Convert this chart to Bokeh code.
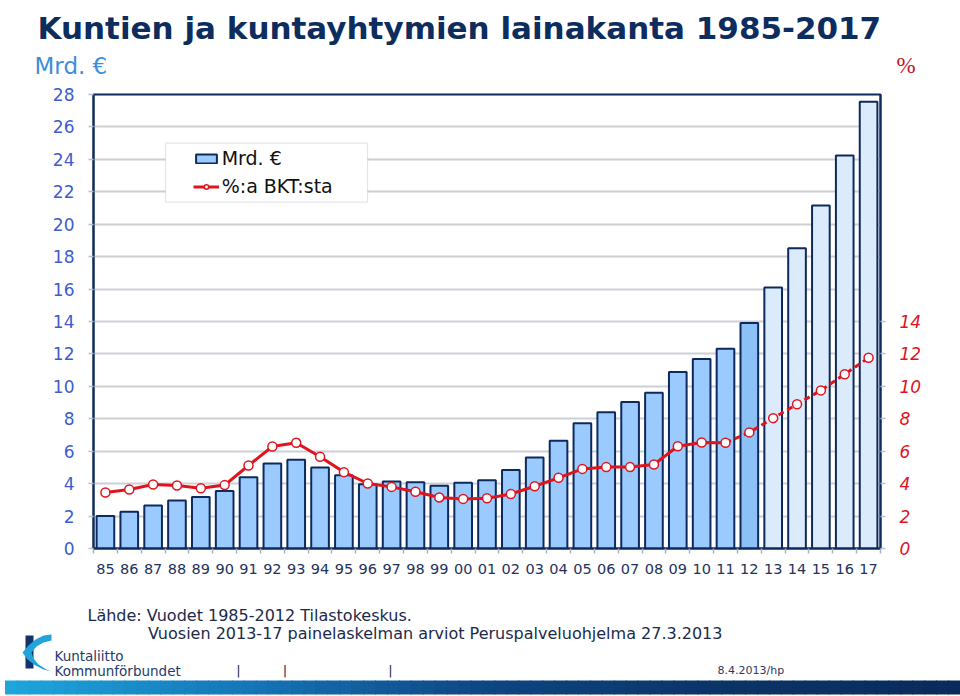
import numpy as np
from bokeh.plotting import figure
from bokeh.layouts import column
from bokeh.models import (Range1d, LinearAxis, FixedTicker, Label, BoxAnnotation,
                          PolyAnnotation, Legend, LegendItem, ColumnDataSource)
from bokeh.embed import file_html
from bokeh.resources import INLINE

# ---------------- data ----------------
years = ["85", "86", "87", "88", "89", "90", "91", "92", "93", "94", "95", "96",
         "97", "98", "99", "00", "01", "02", "03", "04", "05", "06", "07", "08",
         "09", "10", "11", "12", "13", "14", "15", "16", "17"]
loan_bn = [2.00, 2.26, 2.65, 2.96, 3.17, 3.54, 4.40, 5.24, 5.47, 5.00, 4.52, 3.97,
           4.13, 4.09, 3.87, 4.05, 4.21, 4.84, 5.61, 6.64, 7.73, 8.41, 9.03, 9.60,
           10.88, 11.68, 12.32, 13.90, 16.10, 18.51, 21.16, 24.24, 27.56]
pct_gdp = [3.45, 3.64, 3.95, 3.89, 3.72, 3.91, 5.12, 6.29, 6.52, 5.66, 4.71, 4.01,
           3.80, 3.50, 3.15, 3.06, 3.10, 3.36, 3.84, 4.36, 4.91, 5.02, 5.02, 5.18,
           6.31, 6.54, 6.52, 7.16, 8.04, 8.90, 9.75, 10.75, 11.76]
latest_actual = "12"      # last statistics year
dash_from = "11"          # the % line is dashed from this year on
left_ticks = list(range(0, 29, 2))
right_ticks = list(range(0, 15, 2))

title_text = "Kuntien ja kuntayhtymien lainakanta 1985-2017"
unit_left = "Mrd. €"
unit_right = "%"
legend_labels = ["Mrd. €", "%:a BKT:sta"]
source_lines = ["Lähde: Vuodet 1985-2012 Tilastokeskus.",
                "Vuosien 2013-17 painelaskelman arviot Peruspalveluohjelma 27.3.2013"]
logo_lines = ["Kuntaliitto", "Kommunförbundet"]
date_text = "8.4.2013/hp"

# ---------------- styles ----------------
NAVY = "#0E2A5C"
RED = "#E0141E"
BAR_HIST = "#9BCBFE"
BAR_LAST = "#8CC1F8"
BAR_FCST = "#DCEBFC"
FONT = "DejaVu Sans"
W = 960
HEAD_H, MAIN_H, FOOT_H = 80, 510, 106


def blank_panel(height, y_top):
    """A figure whose frame covers the whole canvas; data coords = page pixels."""
    f = figure(width=W, height=height, output_backend="svg", toolbar_location=None,
               x_range=Range1d(0, W), y_range=Range1d(y_top + height, y_top),
               x_axis_location=None, y_axis_location=None, min_border=0,
               frame_align=False)
    f.title.visible = False
    f.outline_line_color = None
    f.grid.visible = False
    f.background_fill_color = "white"
    f.border_fill_color = "white"
    return f


def add_text(fig, text, X, Y, size, color, font=FONT, style="normal", align="left"):
    fig.add_layout(Label(x=X, y=Y, text=text, text_font=font, text_font_size=size,
                         text_font_style=style, text_color=color, text_align=align,
                         text_baseline="alphabetic"))


# ---------------- header ----------------
head = blank_panel(HEAD_H, 0)
add_text(head, title_text, 37, 27.5, "31px", "#0C2D5E", style="bold")
add_text(head, unit_left, 34, 65, "23px", "#3C8DDE")
add_text(head, unit_right, 896, 65, "23px", "#C0182E", font="Liberation Serif")

# ---------------- main chart ----------------
n = len(years)
xs = list(range(n))
i_last = years.index(latest_actual)
i_dash = years.index(dash_from)
fills = [BAR_HIST if i < i_last else (BAR_LAST if i == i_last else BAR_FCST) for i in xs]

bar_src = ColumnDataSource(dict(x=xs, top=loan_bn, fill=fills, year=years))
solid_src = ColumnDataSource(dict(x=xs[:i_dash + 1], y=pct_gdp[:i_dash + 1]))
dash_src = ColumnDataSource(dict(x=xs[i_dash:], y=pct_gdp[i_dash:]))
pt_src = ColumnDataSource(dict(x=xs, y=pct_gdp))

p = figure(width=W, height=MAIN_H, output_backend="svg", toolbar_location=None,
           x_range=Range1d(-0.5, n - 0.5), y_range=Range1d(0, 28),
           min_border_left=93, min_border_right=80, min_border_top=14,
           min_border_bottom=42, frame_align=False)
p.title.visible = False
p.extra_y_ranges = {"pct": Range1d(0, 28)}
p.background_fill_color = "white"
p.border_fill_color = "white"
p.outline_line_color = NAVY
p.outline_line_width = 2

p.xgrid.visible = False
p.ygrid.ticker = FixedTicker(ticks=left_ticks)
p.ygrid.grid_line_color = "#CBD0D5"
p.ygrid.grid_line_width = 2

xa = p.xaxis[0]
xa.ticker = FixedTicker(ticks=xs, minor_ticks=[i - 0.5 for i in range(n + 1)])
xa.major_label_overrides = {i: years[i] for i in xs}
xa.major_tick_out = 0
xa.major_tick_in = 0
xa.minor_tick_out = 5
xa.minor_tick_in = 0
xa.minor_tick_line_color = "#A8B2BC"
xa.minor_tick_line_width = 1.5
xa.axis_line_color = NAVY
xa.axis_line_width = 2
xa.major_label_standoff = 10
xa.major_label_text_font = FONT
xa.major_label_text_font_size = "14.5px"
xa.major_label_text_color = "#1E3260"

ya = p.yaxis[0]
ya.ticker = FixedTicker(ticks=left_ticks)
ya.major_tick_out = 5
ya.major_tick_in = 0
ya.minor_tick_out = 0
ya.minor_tick_in = 0
ya.major_tick_line_color = "#B8C0C8"
ya.major_tick_line_width = 1.5
ya.axis_line_color = NAVY
ya.axis_line_width = 2
ya.major_label_standoff = 14
ya.major_label_text_font = FONT
ya.major_label_text_font_size = "17px"
ya.major_label_text_color = "#3D5CCF"

ra = LinearAxis(y_range_name="pct", ticker=FixedTicker(ticks=right_ticks))
ra.major_tick_out = 5
ra.major_tick_in = 0
ra.minor_tick_out = 0
ra.minor_tick_in = 0
ra.major_tick_line_color = "#B8C0C8"
ra.major_tick_line_width = 1.5
ra.axis_line_color = NAVY
ra.axis_line_width = 2
ra.major_label_standoff = 14
ra.major_label_text_font = FONT
ra.major_label_text_font_size = "17px"
ra.major_label_text_font_style = "italic"
ra.major_label_text_color = RED
p.add_layout(ra, "right")

bars = p.vbar(x="x", top="top", width=0.74, source=bar_src, fill_color="fill",
              line_color=NAVY, line_width=2)
l_solid = p.line("x", "y", source=solid_src, y_range_name="pct", line_color=RED,
                 line_width=3)
l_dash = p.line("x", "y", source=dash_src, y_range_name="pct", line_color=RED,
                line_width=3, line_dash="6 4")
pts = p.scatter("x", "y", source=pt_src, y_range_name="pct", marker="circle", size=9,
                fill_color="white", line_color=RED, line_width=1.5)


# page pixel -> frame screen units (frame left = 93, frame bottom = 548 on the page)
def sx(X):
    return X - 93


def sy(Y):
    return 548 - Y


p.add_layout(BoxAnnotation(left=sx(165), right=sx(367), top=sy(142.7), bottom=sy(201.7),
                           left_units="screen", right_units="screen",
                           top_units="screen", bottom_units="screen",
                           fill_color="white", fill_alpha=1.0,
                           line_color="#9FAAB5", line_width=1.2))
legend = Legend(items=[LegendItem(label=legend_labels[0], renderers=[bars], index=0),
                       LegendItem(label=legend_labels[1], renderers=[l_solid, pts], index=0)],
                location=(sx(192.7), sy(197)), orientation="vertical",
                glyph_width=26, glyph_height=11, label_standoff=3, label_height=22,
                spacing=6, padding=0, margin=0,
                border_line_alpha=0, background_fill_alpha=0,
                label_text_font=FONT, label_text_font_size="19px",
                label_text_color="#111111")
p.add_layout(legend, "center")

# ---------------- footer ----------------
foot = blank_panel(FOOT_H, HEAD_H + MAIN_H)
add_text(foot, source_lines[0], 87, 615, "16px", "#1B2A4A")
add_text(foot, source_lines[1], 147.5, 633, "16px", "#1B2A4A")
add_text(foot, logo_lines[0], 54, 655, "13.5px", "#1F3A6B")
add_text(foot, logo_lines[1], 54, 670, "13.5px", "#1F3A6B")
for X in (238, 284.5, 390):
    add_text(foot, "|", X, 670, "13px", "#1A2A4A", align="center")
add_text(foot, date_text, 717, 670, "11px", "#2B3B5B")

# logo mark
foot.add_layout(BoxAnnotation(left=25, right=33, top=635, bottom=668,
                              fill_color="#15336B", fill_alpha=1.0, line_alpha=0))
swoosh_x = [51, 43, 35, 28, 22, 27, 35, 43, 51, 46, 38, 33, 31, 36, 43, 51]
swoosh_y = [634, 635, 639, 645, 652, 659, 665, 669, 671, 669, 664, 658, 652, 646, 642, 640]
foot.add_layout(PolyAnnotation(xs=swoosh_x, ys=swoosh_y, fill_color="#22A3DA",
                               fill_alpha=1.0, line_alpha=0))

# gradient band along the bottom
stops_t = [0.0, 0.25, 0.5, 0.75, 1.0]
stops_rgb = [(30, 166, 220), (22, 118, 184), (14, 70, 130), (11, 52, 102), (10, 43, 92)]
nb = 80
x0, x1 = 5, 960
for k in range(nb):
    t = (k + 0.5) / nb
    rgb = [int(round(np.interp(t, stops_t, [c[j] for c in stops_rgb]))) for j in range(3)]
    col = "#%02x%02x%02x" % tuple(rgb)
    foot.add_layout(BoxAnnotation(left=x0 + (x1 - x0) * k / nb - 0.5,
                                  right=x0 + (x1 - x0) * (k + 1) / nb + 0.5,
                                  top=680, bottom=694,
                                  fill_color=col, fill_alpha=1.0, line_alpha=0))

layout = column(head, p, foot, spacing=0)
open("out.html", "w").write(file_html(layout, INLINE))
